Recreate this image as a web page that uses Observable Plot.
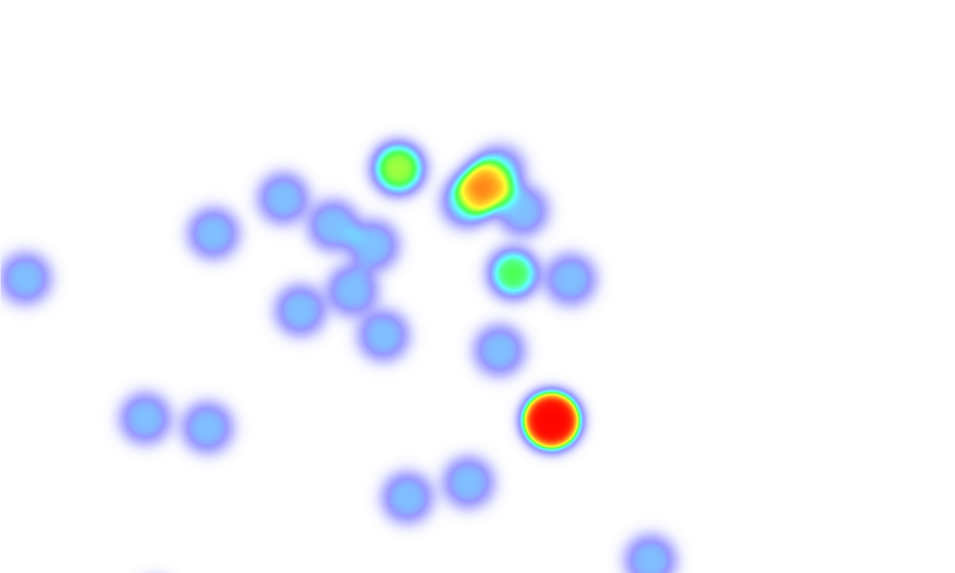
<!DOCTYPE html>
<html>
<head>
<meta charset="utf-8">
<script src="https://cdn.jsdelivr.net/npm/d3@7"></script>
<script src="https://cdn.jsdelivr.net/npm/@observablehq/plot@0.6"></script>
<style>
  html, body { margin: 0; padding: 0; background: #ffffff; }
  #chart svg { display: block; }
</style>
</head>
<body>
<div id="chart"></div>
<script>
// Heat points: x, y (pixel-space coordinates of the map) and point intensity (alpha)
const pointX = [25, 213, 283, 333, 373, 352, 300, 383, 398, 398, 466, 478, 490, 500, 484, 522, 513, 570, 499, 551, 551, 551, 551, 145, 207, 407, 468, 650, 155];
const pointY = [278, 233, 198, 225, 245, 290, 310, 335, 168, 168, 202, 191, 180, 170, 188, 210, 273, 279, 350, 420, 420, 420, 420, 418, 427, 497, 482, 560, 605];
const pointAlpha = [0.5, 0.5, 0.5, 0.5, 0.5, 0.5, 0.5, 0.5, 0.5, 0.5, 0.5, 0.5, 0.5, 0.4, 0.3, 0.5, 0.695, 0.5, 0.5, 0.75, 0.75, 0.75, 0.75, 0.5, 0.5, 0.5, 0.5, 0.5, 0.5];

// Heat gradient stops (simpleheat-style)
const gradStops = [0.4, 0.6, 0.7, 0.8, 1.0];
const gradColors = ["rgb(0,0,255)", "rgb(0,255,255)", "rgb(0,255,0)", "rgb(255,255,0)", "rgb(255,0,0)"];

const W = 955, H = 573;
const radius = 25, blur = 15;
const sigma = blur / 2;

const points = d3.range(pointX.length).map(i => ({x: pointX[i], y: pointY[i], a: pointAlpha[i]}));

function erf(x) {
  const s = Math.sign(x); x = Math.abs(x);
  const t = 1 / (1 + 0.3275911 * x);
  const y = 1 - (((((1.061405429 * t - 1.453152027) * t) + 1.421413741) * t - 0.284496736) * t + 0.254829592) * t * Math.exp(-x * x);
  return s * y;
}
function kernel(d) {
  return 0.5 * (1 + erf((radius - d) / (sigma * Math.SQRT2)));
}
function intensity(x, y) {
  let keep = 1;
  for (const p of points) {
    const dx = x - p.x, dy = y - p.y;
    const d2 = dx * dx + dy * dy;
    if (d2 > 2500) continue;
    keep *= 1 - p.a * kernel(Math.sqrt(d2));
  }
  return 1 - keep;
}

const gradScale = d3.scaleLinear().domain(gradStops).range(gradColors).interpolate(d3.interpolateRgb).clamp(true);
function heatColor(t) {
  if (t <= 0.002) return "rgb(255,255,255)";
  const c = d3.rgb(gradScale(t));
  const a = Math.min(1, t);
  return d3.rgb(255 * (1 - a) + c.r * a, 255 * (1 - a) + c.g * a, 255 * (1 - a) + c.b * a).toString();
}

const chart = Plot.plot({
  width: W,
  height: H,
  margin: 0,
  style: {background: "#ffffff"},
  x: {domain: [0, W], axis: null},
  y: {domain: [0, H], reverse: true, axis: null},
  color: {type: "linear", domain: [0, 1], interpolate: heatColor, clamp: true},
  marks: [
    Plot.raster({
      fill: (x, y) => intensity(x, y),
      x1: 0, x2: W, y1: 0, y2: H,
      width: W, height: H,
      imageRendering: "auto"
    })
  ]
});
document.getElementById("chart").append(chart);
</script>
</body>
</html>
